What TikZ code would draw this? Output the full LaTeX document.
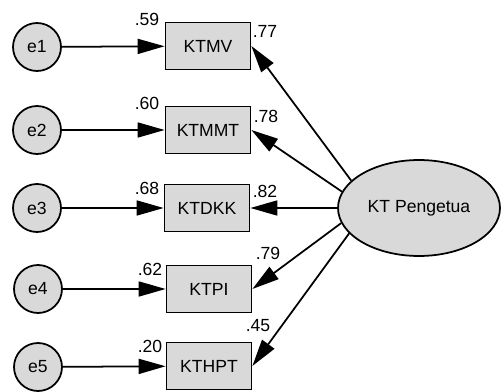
\documentclass[tikz,border=0pt]{standalone}
\usepackage{fontspec}
\setmainfont{Liberation Sans}
\usetikzlibrary{arrows.meta,positioning,shapes.geometric}

\tikzset{
	obsbox/.style={draw, line width=1pt, fill=gray!30, minimum width=1.7cm, minimum height=0.94cm, inner sep=0pt},
	errcirc/.style={draw, line width=1pt, circle, fill=gray!30, minimum size=0.96cm, inner sep=0pt},
	latent/.style={draw, line width=1pt, ellipse, fill=gray!30, minimum width=3.24cm, minimum height=1.92cm, inner sep=0pt},
	regpath/.style={line width=1pt, -{Triangle[length=0.54cm,width=0.3cm]}},
	coef/.style={inner sep=0pt}
}

\begin{document}
\begin{tikzpicture}[x=0.02cm, y=-0.02cm, font=\fontsize{10}{12}\selectfont]
	\useasboundingbox (0,0) rectangle (501,392);
	% error terms
	\node[errcirc] (e1) at (37,47) {e1};
	\node[errcirc] (e2) at (37,130) {e2};
	\node[errcirc] (e3) at (37,208) {e3};
	\node[errcirc] (e4) at (38,289) {e4};
	\node[errcirc] (e5) at (38,367) {e5};
	% indicators
	\node[obsbox] (ktmv) at (208,46) {KTMV};
	\node[obsbox] (ktmmt) at (208,130) {KTMMT};
	\node[obsbox] (ktdkk) at (207,208) {KTDKK};
	\node[obsbox] (ktpi) at (209,289) {KTPI};
	\node[obsbox] (kthpt) at (209,366) {KTHPT};
	% factor
	\node[latent] (pengetua) at (419,208) {KT Pengetua};
	% squared multiple correlations
	\node[coef] (r1) at (147,19) {.59};
	\node[coef] (r2) at (147,103) {.60};
	\node[coef] (r3) at (147,188) {.68};
	\node[coef] (r4) at (150,269) {.62};
	\node[coef] (r5) at (150,346) {.20};
	% loadings
	\node[coef] (l1) at (265,31) {.77};
	\node[coef] (l2) at (266,116) {.78};
	\node[coef] (l3) at (265,191) {.82};
	\node[coef] (l4) at (268,253) {.79};
	\node[coef] (l5) at (258,326) {.45};
	\draw[regpath] (e1) -- (ktmv);
	\draw[regpath] (e2) -- (ktmmt);
	\draw[regpath] (e3) -- (ktdkk);
	\draw[regpath] (e4) -- (ktpi);
	\draw[regpath] (e5) -- (kthpt);
	\draw[regpath] (pengetua.158) -- (ktmv.east);
	\draw[regpath] (pengetua.168) -- (ktmmt.east);
	\draw[regpath] (pengetua.180) -- (ktdkk.east);
	\draw[regpath] (pengetua.191) -- (ktpi.east);
	\draw[regpath] (pengetua.200) -- (kthpt.east);
\end{tikzpicture}
\end{document}
